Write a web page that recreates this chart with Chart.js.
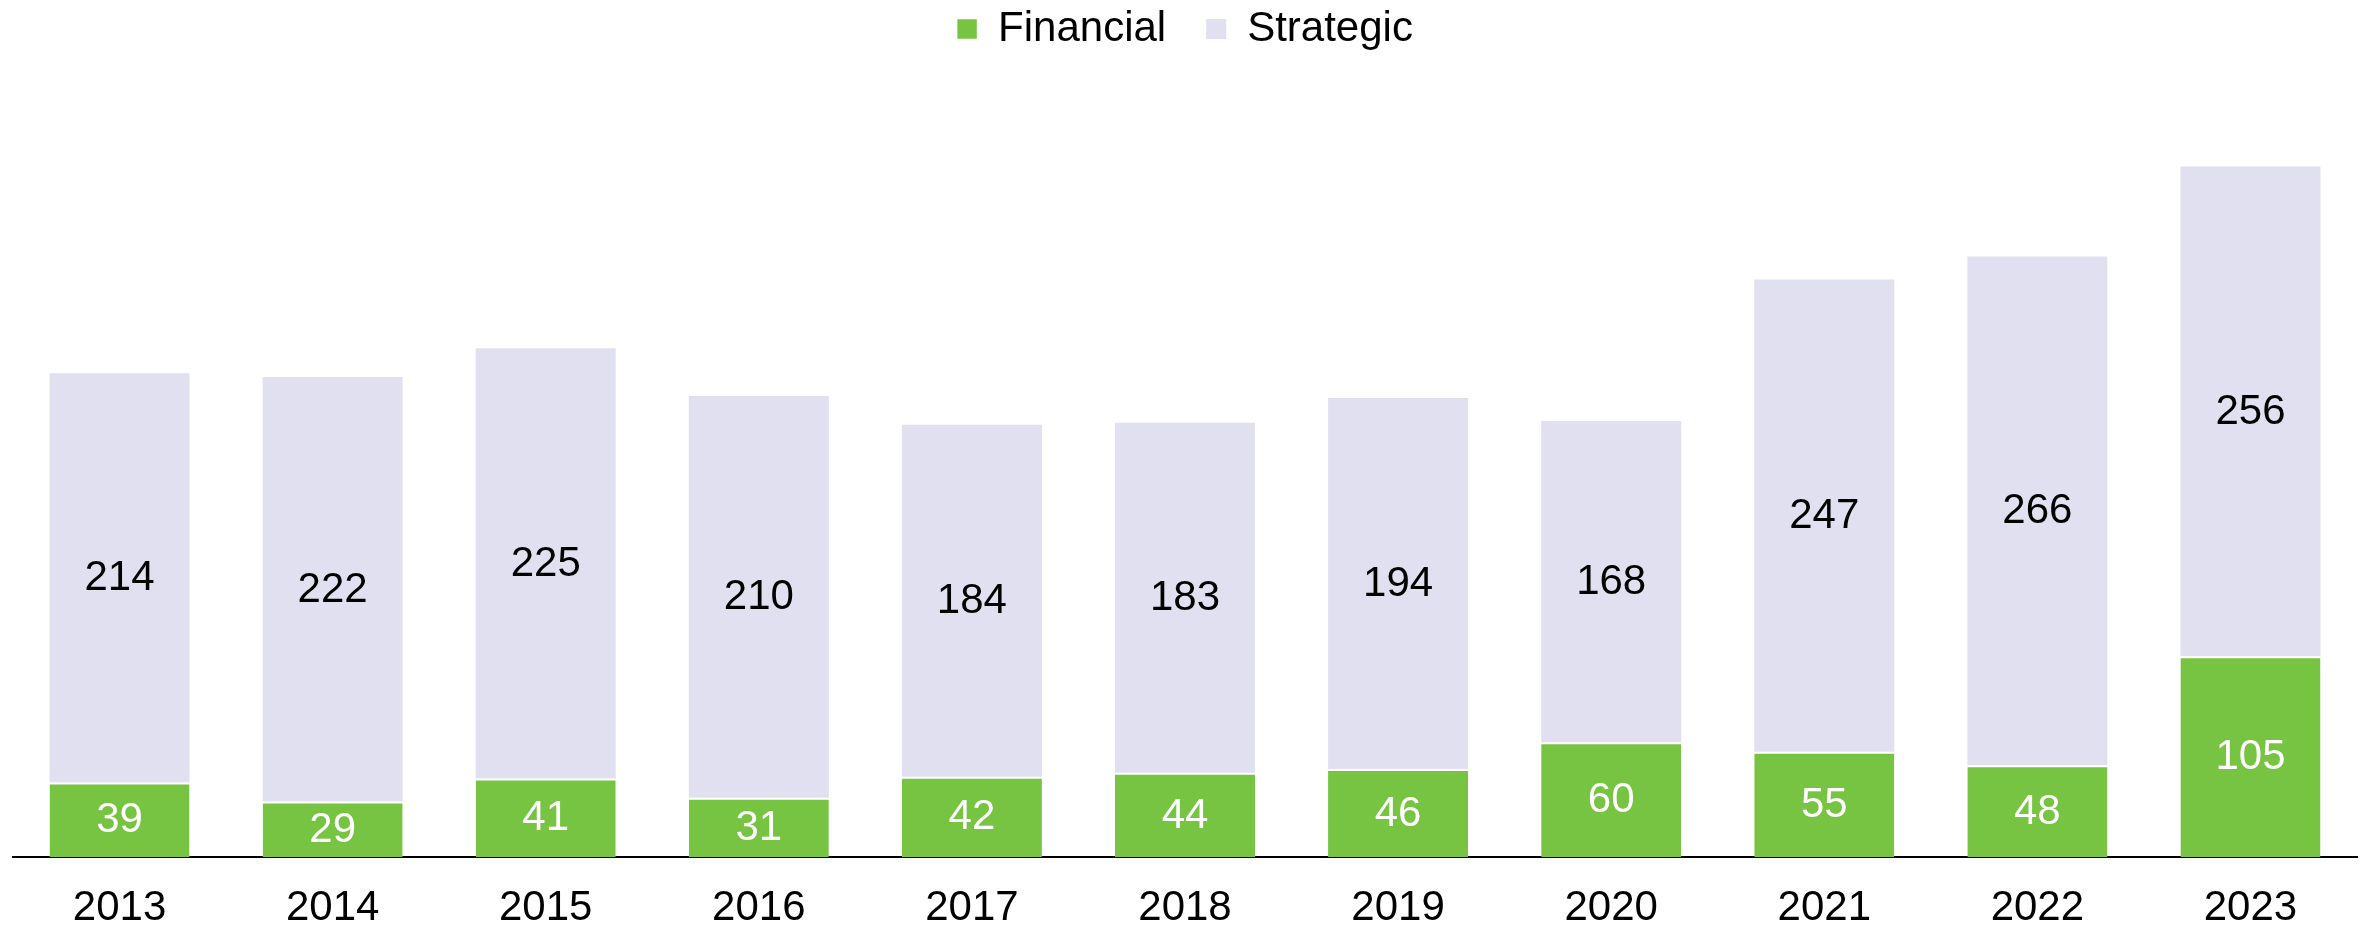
<!DOCTYPE html>
<html>
<head>
<meta charset="utf-8">
<script src="https://cdn.jsdelivr.net/npm/chart.js@4"></script>
<style>
  html, body { margin: 0; padding: 0; background: #fff; }
  #wrap { width: 2362px; height: 928px; position: relative; }
</style>
</head>
<body>
<div id="wrap"><canvas id="dealChart"></canvas></div>
<script>
const years = ['2013', '2014', '2015', '2016', '2017', '2018', '2019', '2020', '2021', '2022', '2023'];
const financial = [39, 29, 41, 31, 42, 44, 46, 60, 55, 48, 105];
const strategic = [214, 222, 225, 210, 184, 183, 194, 168, 247, 266, 256];

const FONT = "'Liberation Sans', Arial, sans-serif";

// draw the value inside each bar segment
const segmentLabels = {
    id: 'segmentLabels',
    afterDatasetsDraw(chart) {
        const ctx = chart.ctx;
        ctx.save();
        ctx.font = '42px ' + FONT;
        ctx.textAlign = 'center';
        ctx.textBaseline = 'middle';
        chart.data.datasets.forEach((ds, i) => {
            const meta = chart.getDatasetMeta(i);
            ctx.fillStyle = ds.labelColor;
            meta.data.forEach((bar, j) => {
                ctx.fillText(String(ds.data[j]), bar.x, (bar.y + bar.base) / 2 + 1);
            });
        });
        ctx.restore();
    }
};

// pull the legend up so it sits near the top edge
const legendShift = {
    id: 'legendShift',
    afterLayout(chart) {
        chart.legend.top -= 32;
        chart.legend.bottom -= 32;
    }
};

const ctx = document.getElementById('dealChart').getContext('2d');

const data = {
    labels: years,
    datasets: [
        {
            label: 'Financial',
            data: financial,
            backgroundColor: '#77C443',
            borderColor: '#ffffff',
            borderWidth: { top: 2, left: 0, right: 0, bottom: 0 },
            labelColor: '#ffffff'
        },
        {
            label: 'Strategic',
            data: strategic,
            backgroundColor: '#E1E0F1',
            borderWidth: 0,
            labelColor: '#000000'
        }
    ]
};

const config = {
    type: 'bar',
    data: data,
    options: {
        responsive: true,
        maintainAspectRatio: false,
        animation: false,
        layout: {
            padding: { left: 13, right: 5, top: 0, bottom: 0 }
        },
        datasets: {
            bar: {
                barPercentage: 0.657,
                categoryPercentage: 1
            }
        },
        plugins: {
            legend: {
                display: true,
                position: 'top',
                labels: {
                    boxWidth: 20,
                    boxHeight: 20,
                    padding: 40,
                    color: '#000',
                    font: { family: FONT, size: 42 }
                }
            },
            tooltip: { enabled: false }
        },
        scales: {
            x: {
                stacked: true,
                grid: { display: false, drawTicks: false },
                border: { display: true, color: '#000', width: 2 },
                ticks: {
                    color: '#000',
                    padding: 30,
                    font: { family: FONT, size: 42, lineHeight: 1 }
                },
                afterFit(scale) {
                    scale.height = 71;
                }
            },
            y: {
                stacked: true,
                display: false,
                min: 0,
                max: 400
            }
        }
    },
    plugins: [segmentLabels, legendShift]
};

const dealChart = new Chart(ctx, config);
</script>
</body>
</html>
